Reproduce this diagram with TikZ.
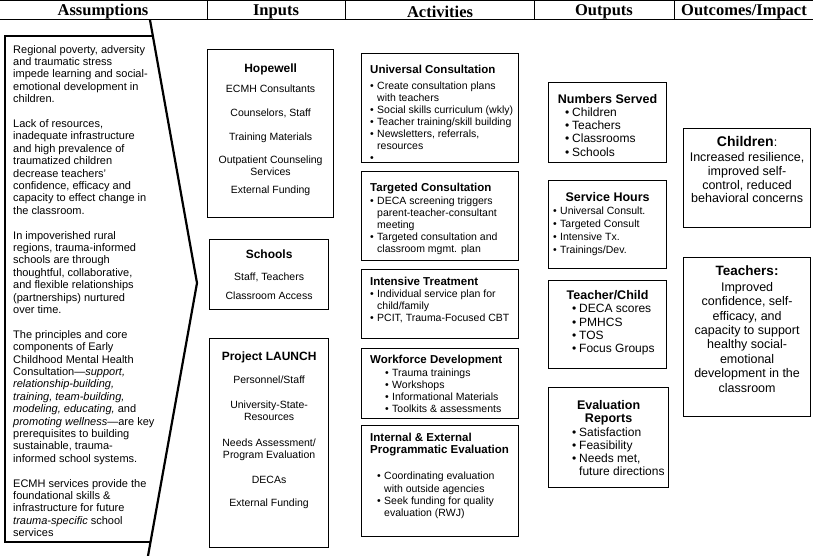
\documentclass[tikz,border=0pt]{standalone}
\usepackage{fontspec}
\setmainfont{Liberation Sans}
\newfontfamily\headfont{Liberation Serif}
\usetikzlibrary{positioning}
\newcommand{\setfs}[2]{\fontsize{#1}{#2}\selectfont}
\newcommand{\bitem}{\makebox[7pt][l]{\textbullet}}
\newcommand{\bcont}{\hspace*{7pt}}
\tikzset{
  box/.style={draw, line width=1.2pt, anchor=north west, inner sep=0pt},
  ltxt/.style={anchor=north west, inner sep=0pt, align=left},
  ctxt/.style={anchor=north, inner sep=0pt, align=center},
  head/.style={font=\headfont\bfseries\setfs{16.5}{17}},
  hline/.style={line width=1pt},
}
\begin{document}
\begin{tikzpicture}[x=1pt,y=-1pt]
\useasboundingbox (0,0) rectangle (813,556);
% header row
\draw[hline] (0,1) -- (813,1);
\draw[hline] (0,20) -- (813,20);
\foreach \sx in {207,345,534,674} \draw[hline] (\sx,1) -- (\sx,20);
\node[head] (hasm) at (103,11.5) {Assumptions};
\node[head] (hinp) at (276,11.5) {Inputs};
\node[head] (hact) at (440,11.5) {Activities};
\node[head] (hout) at (604,11.5) {Outputs};
\node[head] (hoc) at (744,11.5) {Outcomes/Impact};
% assumptions arrow
\coordinate (atop) at (150,20);
\coordinate (atip) at (197,283);
\coordinate (abot) at (148,556);
\draw[line width=2.2pt] (atop) -- (atip) -- (abot);
\draw[line width=1.8pt] (152.9,36) -- (5,36) -- (5,542) -- (150.5,542);
\node[ltxt, font=\setfs{11}{12.4}] (asmtxt) at (13,45) {Regional poverty, adversity\\
and traumatic stress\\
impede learning and social-\\
emotional development in\\
children.\\[12.4pt]
Lack of resources,\\
inadequate infrastructure\\
and high prevalence of\\
traumatized children\\
decrease teachers'\\
confidence, efficacy and\\
capacity to effect change in\\
the classroom.\\[12.4pt]
In impoverished rural\\
regions, trauma-informed\\
schools are through\\
thoughtful, collaborative,\\
and flexible relationships\\
(partnerships) nurtured\\
over time.\\[12.4pt]
The principles and core\\
components of Early\\
Childhood Mental Health\\
Consultation—\textit{support,}\\
\textit{relationship-building,}\\
\textit{training, team-building,}\\
\textit{modeling, educating,} and\\
\textit{promoting wellness}—are key\\
prerequisites to building\\
sustainable, trauma-\\
informed school systems.\\[12.4pt]
ECMH services provide the\\
foundational skills \&\\
infrastructure for future\\
\textit{trauma-specific} school\\
services};
% inputs
\node[box, minimum width=126pt, minimum height=168pt] (hope) at (207,49) {};
\node[ctxt, font=\setfs{10.5}{12}, yshift=-14.5pt] (hopetxt) at (hope.north) {{\setfs{12}{14}\bfseries Hopewell}\\[8pt]
ECMH Consultants\\[12pt]
Counselors, Staff\\[12pt]
Training Materials\\[11pt]
Outpatient Counseling\\
Services\\[6pt]
External Funding};
\node[box, minimum width=119pt, minimum height=70pt] (schl) at (209,239) {};
\node[ctxt, font=\setfs{10.5}{12}, yshift=-10.5pt] (schltxt) at (schl.north) {{\setfs{12}{14}\bfseries Schools}\\[10pt]
Staff, Teachers\\[7pt]
Classroom Access};
\node[box, minimum width=119pt, minimum height=209pt] (launch) at (209,338) {};
\node[ctxt, font=\setfs{10.5}{12}, yshift=-13.5pt] (launchtxt) at (launch.north) {{\setfs{12}{14}\bfseries Project LAUNCH}\\[11pt]
Personnel/Staff\\[13pt]
University-State-\\
Resources\\[14pt]
Needs Assessment/\\
Program Evaluation\\[13pt]
DECAs\\[11pt]
External Funding};
% activities
\node[box, minimum width=157pt, minimum height=109pt] (univ) at (361,53) {};
\node[ltxt, font=\setfs{10.5}{12}, xshift=9pt, yshift=-11.6pt] (univtxt) at (univ.north west) {{\setfs{11.5}{13}\bfseries Universal Consultation}\\[4pt]
\bitem Create consultation plans\\
\bcont with teachers\\
\bitem Social skills curriculum (wkly)\\
\bitem Teacher training/skill building\\
\bitem Newsletters, referrals,\\
\bcont resources\\
\bitem};
\node[box, minimum width=157pt, minimum height=89pt] (targ) at (361,171) {};
\node[ltxt, font=\setfs{10.5}{12}, xshift=9pt, yshift=-11.6pt] (targtxt) at (targ.north west) {{\setfs{11.5}{13}\bfseries Targeted Consultation}\\[1pt]
\bitem DECA screening triggers\\
\bcont parent-teacher-consultant\\
\bcont meeting\\
\bitem Targeted consultation and\\
\bcont classroom mgmt. plan};
\node[box, minimum width=157pt, minimum height=69pt] (inten) at (361,269) {};
\node[ltxt, font=\setfs{10.5}{12}, xshift=9pt, yshift=-7.6pt] (intentxt) at (inten.north west) {{\setfs{11.5}{13}\bfseries Intensive Treatment}\\
\bitem Individual service plan for\\
\bcont child/family\\
\bitem PCIT, Trauma-Focused CBT};
\node[box, minimum width=157pt, minimum height=70pt] (work) at (361,348) {};
\node[ltxt, font=\setfs{10.5}{11.8}, xshift=9pt, yshift=-6.6pt] (worktxt) at (work.north west) {{\setfs{11.5}{13}\bfseries Workforce Development}\\[2pt]
\hspace*{15pt}\bitem Trauma trainings\\
\hspace*{15pt}\bitem Workshops\\
\hspace*{15pt}\bitem Informational Materials\\
\hspace*{15pt}\bitem Toolkits \& assessments};
\node[box, minimum width=157pt, minimum height=111pt] (evalp) at (361,425) {};
\node[ltxt, font=\setfs{10.5}{12.3}, xshift=9pt, yshift=-7.6pt] (evalptxt) at (evalp.north west) {{\setfs{11.5}{12}\bfseries Internal \& External}\\
{\setfs{11.5}{12}\bfseries Programmatic Evaluation}\\[14pt]
\hspace*{7pt}\bitem Coordinating evaluation\\
\hspace*{7pt}\bcont with outside agencies\\
\hspace*{7pt}\bitem Seek funding for quality\\
\hspace*{7pt}\bcont evaluation (RWJ)};
% outputs
\node[box, minimum width=118pt, minimum height=80pt] (nums) at (548,82) {};
\node[ctxt, font=\setfs{12.5}{14}\bfseries, yshift=-12.3pt] (numstitle) at (nums.north) {Numbers Served};
\node[ltxt, font=\setfs{12}{13.3}] (numslist) at ([xshift=17pt, yshift=-25.4pt]nums.north west) {\bitem Children\\
\bitem Teachers\\
\bitem Classrooms\\
\bitem Schools};
\node[box, minimum width=118pt, minimum height=88pt] (hours) at (548,180) {};
\node[ctxt, font=\setfs{12.5}{14}\bfseries, yshift=-12pt] (hourstitle) at (hours.north) {Service Hours};
\node[ltxt, font=\setfs{10.5}{13}] (hourslist) at ([xshift=5pt, yshift=-27pt]hours.north west) {\bitem Universal Consult.\\
\bitem Targeted Consult\\
\bitem Intensive Tx.\\
\bitem Trainings/Dev.};
\node[box, minimum width=118pt, minimum height=88pt] (tchild) at (548,280) {};
\node[ctxt, font=\setfs{12.5}{14}\bfseries, yshift=-10.3pt] (tchildtitle) at (tchild.north) {Teacher/Child};
\node[ltxt, font=\setfs{12}{13.3}] (tchildlist) at ([xshift=24pt, yshift=-24.4pt]tchild.north west) {\bitem DECA scores\\
\bitem PMHCS\\
\bitem TOS\\
\bitem Focus Groups};
\node[box, minimum width=120pt, minimum height=100pt] (evrep) at (548,387) {};
\node[ctxt, font=\setfs{12.5}{13}\bfseries, yshift=-13.3pt] (evreptitle) at (evrep.north) {Evaluation\\ Reports};
\node[ltxt, font=\setfs{12}{13}] (evreplist) at ([xshift=24pt, yshift=-40.4pt]evrep.north west) {\bitem Satisfaction\\
\bitem Feasibility\\
\bitem Needs met,\\
\bcont future directions};
% outcomes
\node[box, minimum width=127pt, minimum height=99pt] (child) at (683,128) {};
\node[ctxt, font=\setfs{12.5}{13.7}, yshift=-7.7pt] (childtxt) at (child.north) {{\setfs{14}{16}\bfseries Children}:\\[2pt]
Increased resilience,\\
improved self-\\
control, reduced\\
behavioral concerns};
\node[box, minimum width=127pt, minimum height=159pt] (teach) at (683,257) {};
\node[ctxt, font=\setfs{12.5}{14.4}, yshift=-9pt] (teachtxt) at (teach.north) {{\setfs{13.5}{15}\bfseries Teachers:}\\[1pt]
Improved\\
confidence, self-\\
efficacy, and\\
capacity to support\\
healthy social-\\
emotional\\
development in the\\
classroom};
\end{tikzpicture}
\end{document}
